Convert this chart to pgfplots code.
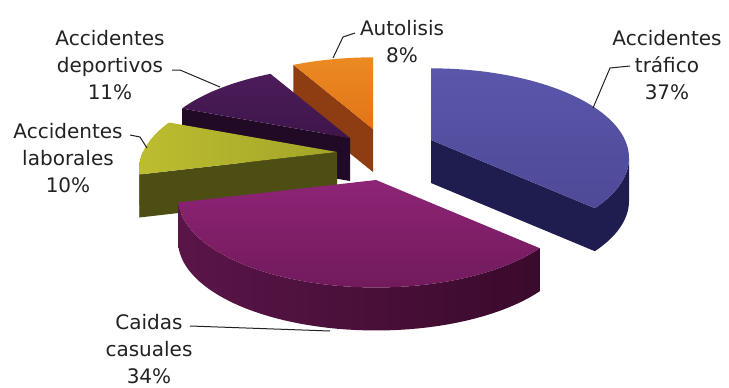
\documentclass[border=0pt]{standalone}
\usepackage{pgfplots}
\pgfplotsset{compat=1.18}
\usepackage{fontspec}
\setmainfont{DejaVu Sans}
\definecolor{trafTopA}{HTML}{5A56AA}
\definecolor{trafTopB}{HTML}{4E4A98}
\definecolor{trafSide}{HTML}{1F1D50}
\definecolor{caidTopA}{HTML}{8E2476}
\definecolor{caidTopB}{HTML}{721A5C}
\definecolor{caidSideA}{HTML}{5A1548}
\definecolor{caidSideB}{HTML}{3A0A2C}
\definecolor{laboTopA}{HTML}{BDBD30}
\definecolor{laboTopB}{HTML}{A3A428}
\definecolor{laboSide}{HTML}{4D4E14}
\definecolor{depoTopA}{HTML}{4C1C5A}
\definecolor{depoTopB}{HTML}{3E154B}
\definecolor{depoSide}{HTML}{210A26}
\definecolor{autoTopA}{HTML}{EB8A22}
\definecolor{autoTopB}{HTML}{E27416}
\definecolor{autoSide}{HTML}{8E3D12}
\definecolor{txt}{HTML}{222222}
% data (percent)
\def\pTraf{37}\def\pCaid{34}\def\pLabo{10}\def\pDepo{11}\def\pAuto{8}
\pgfmathsetmacro\aA{90}
\pgfmathsetmacro\aB{\aA-3.6*\pTraf}
\pgfmathsetmacro\aC{\aB-3.6*\pCaid}
\pgfmathsetmacro\aD{\aC-3.6*\pLabo}
\pgfmathsetmacro\aE{\aD-3.6*\pDepo}
\pgfmathsetmacro\aF{\aE-3.6*\pAuto}
\def\D{43}
% #1 options, #2 cx, #3 cy, #4 a1, #5 a2
\newcommand\topface[5]{%
  \addplot[#1, draw=none, domain=#4:#5, samples=60, variable=\t]
    ({#2+rx(\t)},{#3+ry(\t)}) -- (#2,#3) -- cycle;}
\newcommand\band[5]{%
  \addplot[#1, draw=none, domain=0:2.2, samples=111, variable=\t]
    ({#2+rx(bang(\t,#4,#5))},{#3+ry(bang(\t,#4,#5))-\D*min(max((\t-1)*5,0),1)}) -- cycle;}
\newcommand\radial[4]{%
  \addplot[#1, draw=none, domain=0:3, samples=4, variable=\t]
    ({#2+rx(#4)*(\t>0.5)*(\t<2.5)},{#3+ry(#4)*(\t>0.5)*(\t<2.5)-\D*(\t>1.5)}) -- cycle;}
\begin{document}
\begin{tikzpicture}[declare function={
  rx(\q)=194*cos(\q)/(1+0.2*sin(\q));
  ry(\q)=86*sin(\q)/(1+0.2*sin(\q));
  bang(\q,\a,\b)=(\q<=1.1)*((\a)+((\b)-(\a))*min(\q,1)) + (\q>1.1)*((\b)-((\b)-(\a))*max(\q-1.2,0));
}]
\begin{axis}[x=1pt, y=1pt, xmin=0, xmax=729, ymin=0, ymax=384,
  hide axis, clip=false]
\addplot[draw=none] coordinates {(0,0) (729,384)};
% Autolisis
\radial{fill=autoSide}{373}{255}{\aE}
\topface{top color=autoTopA, bottom color=autoTopB}{373}{255}{\aF}{\aE}
% Accidentes deportivos
\radial{fill=depoSide}{350}{246}{\aD}
\topface{top color=depoTopA, bottom color=depoTopB}{350}{246}{\aE}{\aD}
% Accidentes laborales
\band{fill=laboSide}{337}{232}{-180}{\aC}
\radial{fill=laboSide}{337}{232}{\aC}
\topface{left color=laboTopA, right color=laboTopB}{337}{232}{\aD}{\aC}
% Accidentes trafico
\band{fill=trafSide}{431}{244}{\aB}{-11.54}
\radial{fill=trafSide}{431}{244}{\aB}
\topface{top color=trafTopA, bottom color=trafTopB}{431}{244}{\aB}{\aA}
% Caidas casuales
\band{left color=caidSideA, right color=caidSideB}{376}{204}{\aC}{\aB}
\topface{top color=caidTopA, bottom color=caidTopB}{376}{204}{\aC}{\aB}
% leader lines
\addplot[txt, line width=1pt] coordinates {(333,326) (343,347) (355,351)};
\addplot[txt, line width=1pt] coordinates {(593,276) (610,316) (630,318)};
\addplot[txt, line width=1pt] coordinates {(172,314) (180,314) (220,297)};
\addplot[txt, line width=1pt] coordinates {(130,249) (140,247) (147,236)};
\addplot[txt, line width=1pt] coordinates {(190,58) (330,53)};
% labels
\begin{scope}[every node/.style={align=center, text=txt, font=\fontsize{20}{27}\selectfont}]
\node at (402,342) {Autolisis\\8\%};
\node at (667,319) {Accidentes\\tráfico\\37\%};
\node at (110,319) {Accidentes\\deportivos\\11\%};
\node at (68,226) {Accidentes\\laborales\\10\%};
\node at (149,35) {Caidas\\casuales\\34\%};
\end{scope}
\end{axis}
\end{tikzpicture}
\end{document}
